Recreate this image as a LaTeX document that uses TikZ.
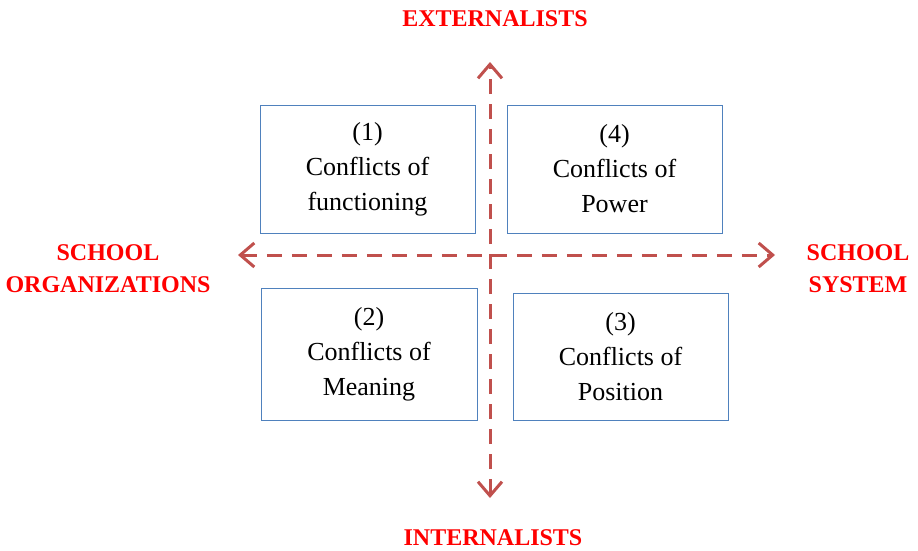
\documentclass[tikz,border=0pt]{standalone}
\usepackage{fontspec}
\setmainfont{Liberation Serif}
\usetikzlibrary{arrows.meta}
\definecolor{arrowred}{RGB}{192,80,77}
\definecolor{boxblue}{RGB}{79,129,189}
\definecolor{labelred}{RGB}{255,0,0}
\tikzset{
  quad/.style={draw=boxblue, line width=1pt, rectangle, inner sep=0pt, align=center,
    font=\fontsize{26}{35}\selectfont},
  axislabel/.style={text=labelred, align=center, inner sep=0pt, font=\fontsize{24}{32}\selectfont\bfseries},
  axis/.style={draw=arrowred, line width=3pt, dash pattern=on 15pt off 10pt, barb-barb}
}
\tikzset{barb/.tip={Straight Barb[length=14pt,width=24pt,line width=3pt]}}
\begin{document}
\begin{tikzpicture}[x=1pt,y=-1pt]
\useasboundingbox (0,0) rectangle (918,550);
\node[quad, minimum width=215pt, minimum height=128pt] (b1) at (367.5,169) {(1)\\Conflicts of\\functioning};
\node[quad, minimum width=215pt, minimum height=128pt] (b4) at (614.5,169) {(4)\\Conflicts of\\Power};
\node[quad, minimum width=216pt, minimum height=132pt] (b2) at (369,354) {(2)\\Conflicts of\\Meaning};
\node[quad, minimum width=215pt, minimum height=127pt] (b3) at (620.5,356.5) {(3)\\Conflicts of\\Position};
\coordinate (top) at (490,62);
\coordinate (bot) at (490,498);
\coordinate (lft) at (238,255);
\coordinate (rgt) at (775,255);
\draw[axis] (bot) -- (top);
\draw[axis] (lft) -- (rgt);
\node[axislabel] (ext) at (495,19) {EXTERNALISTS};
\node[axislabel] (int) at (493,538) {INTERNALISTS};
\node[axislabel] (org) at (108,269) {SCHOOL\\ORGANIZATIONS};
\node[axislabel] (sys) at (858,269) {SCHOOL\\SYSTEM};
\end{tikzpicture}
\end{document}
